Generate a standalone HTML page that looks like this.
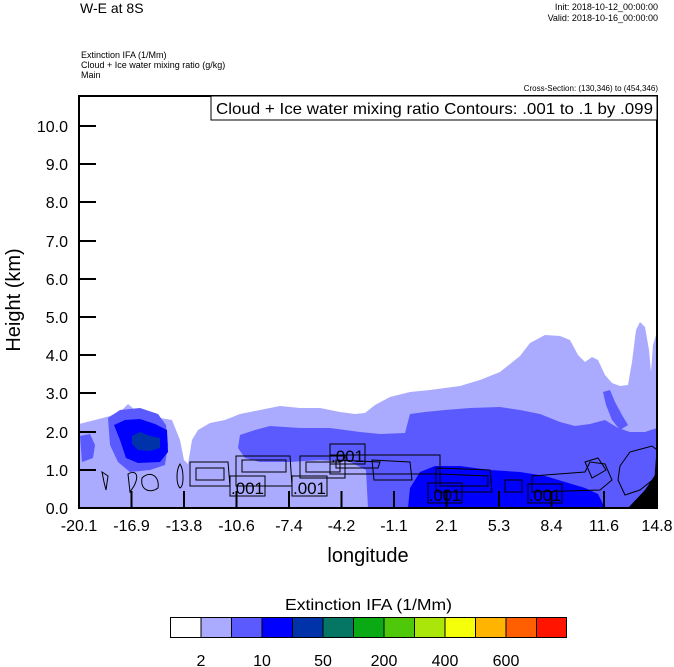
<!DOCTYPE html>
<html><head><meta charset="utf-8"><style>
body{margin:0;background:#fff}
svg{display:block;font-family:"Liberation Sans",sans-serif}
</style></head><body>
<svg width="674" height="667" viewBox="0 0 674 667" xmlns="http://www.w3.org/2000/svg">
<rect width="674" height="667" fill="#fff"/>
<text x="80" y="13" font-size="14">W-E at 8S</text>
<text x="658" y="10" font-size="9" text-anchor="end">Init: 2018-10-12_00:00:00</text>
<text x="658" y="21" font-size="9" text-anchor="end">Valid: 2018-10-16_00:00:00</text>
<text x="81" y="58" font-size="9">Extinction IFA   (1/Mm)</text>
<text x="81" y="68" font-size="9">Cloud + Ice water mixing ratio   (g/kg)</text>
<text x="81" y="78" font-size="9">Main</text>
<text x="658" y="91" font-size="8" text-anchor="end">Cross-Section: (130,346) to (454,346)</text>

<path fill="#aaaaff" d="M79,424 L95,420 L110,416 L122,410 L128,404 L135,410 L142,412 L150,414 L160,418 L172,420 L180,440 L184,460 L188,464 L192,440 L198,430 L210,423 L225,420 L240,414 L260,410 L280,406 L300,408 L320,408 L340,412 L355,414 L365,413 L375,405 L390,397 L410,392 L430,390 L460,386 L480,380 L500,372 L520,356 L530,343 L545,335 L560,336 L570,340 L578,355 L585,362 L592,357 L598,360 L605,375 L612,383 L620,386 L628,385 L632,362 L636,330 L640,322 L645,327 L649,350 L651,372 L653,345 L657,332 L657,508 L79,508 Z"/>
<path fill="#5a5aff" d="M240,435 L255,430 L270,426 L300,428 L330,428 L360,432 L380,434 L405,433 L410,414 L425,412 L445,410 L470,408 L500,407 L520,410 L540,414 L560,422 L575,426 L590,424 L605,420 L618,428 L630,432 L645,432 L657,428 L657,508 L368,508 L366,470 L350,462 L320,460 L290,462 L260,462 L245,458 L238,448 Z"/>
<path fill="#5a5aff" d="M603,392 L610,390 L615,402 L622,415 L628,425 L620,430 L612,420 L606,405 Z"/>
<path fill="#5a5aff" d="M80,436 L90,434 L95,445 L93,458 L82,462 Z"/>
<path fill="#5a5aff" d="M108,418 L120,410 L140,408 L158,414 L166,425 L168,445 L165,465 L150,470 L130,472 L118,462 L110,445 Z"/>
<path fill="#0000ff" d="M114,425 L125,420 L140,419 L155,424 L167,430 L168,452 L160,462 L138,463 L126,458 L120,440 Z"/>
<path fill="#0033aa" d="M132,436 L140,432 L150,436 L160,438 L160,448 L150,451 L138,450 L132,444 Z"/>
<path fill="#0000ff" d="M408,508 L410,488 L420,472 L435,466 L460,466 L490,470 L520,472 L545,476 L565,482 L585,488 L598,494 L605,508 Z"/>
<path fill="#000" d="M628,508 L645,490 L657,472 L657,508 Z"/>

<g fill="none" stroke="#000" stroke-width="1">
<path d="M102,472 L108,476 L106,490 L104,482 Z"/>
<path d="M128,474 C135,470 140,474 134,486 L130,492 Z"/>
<path d="M142,478 C150,470 160,476 158,488 C150,494 140,490 142,478 Z"/>
<path d="M180,464 C184,470 184,486 180,488 C176,484 176,470 180,464 Z"/>
<path d="M190,462 L228,462 L230,486 L190,486 Z"/>
<path d="M196,468 L224,468 L224,480 L196,480 Z"/>
<path d="M236,456 L290,456 L292,486 L236,486 Z"/>
<path d="M242,460 L286,460 L286,472 L242,472 Z"/>
<path d="M300,456 L345,456 L345,478 L300,478 Z"/>
<path d="M306,462 L340,462 L340,472 L306,472 Z"/>
<path d="M330,455 L440,455 L440,474 L330,474 Z"/>
<path d="M336,460 L380,462 L378,468 L336,468 Z"/>
<path d="M372,460 L410,462 L412,480 L374,480 Z"/>
<path d="M436,468 L490,470 L492,492 L436,492 Z"/>
<path d="M440,474 L488,476 L488,486 L440,486 Z"/>
<path d="M505,480 L522,480 L522,492 L505,492 Z"/>
<path d="M532,476 L585,472 L590,462 L605,464 L612,480 L600,490 L532,492 Z"/>
<path d="M620,466 L630,452 L645,448 L652,446 L657,450 L655,478 L640,490 L625,495 L618,480 Z"/>
<path d="M585,462 L598,458 L606,470 L592,478 Z"/>
</g>
<g font-size="17" fill="#000">
<rect x="230" y="476" width="35" height="20" fill="none" stroke="#000"/><text x="231" y="494" textLength="33">.001</text>
<rect x="292" y="476" width="35" height="20" fill="none" stroke="#000"/><text x="293" y="494" textLength="33">.001</text>
<rect x="330" y="444" width="35" height="20" fill="none" stroke="#000"/><text x="331" y="462" textLength="33">.001</text>
<rect x="428" y="483" width="34" height="20" fill="none" stroke="#000"/><text x="429" y="501" textLength="32">.001</text>
<rect x="528" y="484" width="34" height="19" fill="none" stroke="#000"/><text x="529" y="501" textLength="32">.001</text>
</g>

<rect x="79" y="96" width="578" height="412" fill="none" stroke="#000" stroke-width="2"/>
<rect x="211" y="96" width="446" height="24" fill="#fff" stroke="#000" stroke-width="1"/>
<text x="216" y="114" font-size="16" textLength="437" lengthAdjust="spacingAndGlyphs">Cloud + Ice water mixing ratio Contours: .001 to .1 by .099</text>

<g stroke="#000" stroke-width="2">
<line x1="79" y1="470" x2="96" y2="470"/><line x1="79" y1="432" x2="96" y2="432"/>
<line x1="79" y1="393" x2="96" y2="393"/><line x1="79" y1="355" x2="96" y2="355"/>
<line x1="79" y1="317" x2="96" y2="317"/><line x1="79" y1="279" x2="96" y2="279"/>
<line x1="79" y1="241" x2="96" y2="241"/><line x1="79" y1="202" x2="96" y2="202"/>
<line x1="79" y1="164" x2="96" y2="164"/><line x1="79" y1="126" x2="96" y2="126"/>
<line x1="131.5" y1="508" x2="131.5" y2="491"/><line x1="184" y1="508" x2="184" y2="491"/>
<line x1="236.5" y1="508" x2="236.5" y2="491"/><line x1="289" y1="508" x2="289" y2="491"/>
<line x1="341.5" y1="508" x2="341.5" y2="491"/><line x1="394" y1="508" x2="394" y2="491"/>
<line x1="446.5" y1="508" x2="446.5" y2="491"/><line x1="499" y1="508" x2="499" y2="491"/>
<line x1="551.5" y1="508" x2="551.5" y2="491"/><line x1="604" y1="508" x2="604" y2="491"/>
</g>
<g font-size="16" text-anchor="end">
<text x="68" y="514">0.0</text><text x="68" y="476">1.0</text><text x="68" y="438">2.0</text>
<text x="68" y="399">3.0</text><text x="68" y="361">4.0</text><text x="68" y="323">5.0</text>
<text x="68" y="285">6.0</text><text x="68" y="247">7.0</text><text x="68" y="208">8.0</text>
<text x="68" y="170">9.0</text><text x="68" y="132">10.0</text>
</g>
<text transform="translate(20,300) rotate(-90)" font-size="20" text-anchor="middle">Height (km)</text>
<g font-size="16" text-anchor="middle">
<text x="79" y="531">-20.1</text><text x="131.5" y="531">-16.9</text><text x="184" y="531">-13.8</text>
<text x="236.5" y="531">-10.6</text><text x="289" y="531">-7.4</text><text x="341.5" y="531">-4.2</text>
<text x="394" y="531">-1.1</text><text x="446.5" y="531">2.1</text><text x="499" y="531">5.3</text>
<text x="551.5" y="531">8.4</text><text x="604" y="531">11.6</text><text x="657" y="531">14.8</text>
</g>
<text x="368" y="562" font-size="20" text-anchor="middle">longitude</text>

<text x="285" y="610" font-size="16" textLength="167" lengthAdjust="spacingAndGlyphs">Extinction IFA  (1/Mm)</text>
<g stroke="#000" stroke-width="1">
<rect x="170.5" y="617.5" width="30.5" height="20" fill="#ffffff"/>
<rect x="201" y="617.5" width="30.5" height="20" fill="#aaaaff"/>
<rect x="231.5" y="617.5" width="30.5" height="20" fill="#5a5aff"/>
<rect x="262" y="617.5" width="30.5" height="20" fill="#0000ff"/>
<rect x="292.5" y="617.5" width="30.5" height="20" fill="#0033aa"/>
<rect x="323" y="617.5" width="30.5" height="20" fill="#057564"/>
<rect x="353.5" y="617.5" width="30.5" height="20" fill="#0aaa14"/>
<rect x="384" y="617.5" width="30.5" height="20" fill="#50c80a"/>
<rect x="414.5" y="617.5" width="30.5" height="20" fill="#aae60a"/>
<rect x="445" y="617.5" width="30.5" height="20" fill="#f5ff0a"/>
<rect x="475.5" y="617.5" width="30.5" height="20" fill="#ffb400"/>
<rect x="506" y="617.5" width="30.5" height="20" fill="#ff5f00"/>
<rect x="536.5" y="617.5" width="30" height="20" fill="#ff1400"/>
</g>
<g font-size="16" text-anchor="middle">
<text x="201" y="666">2</text><text x="262" y="666">10</text><text x="323" y="666">50</text>
<text x="384" y="666">200</text><text x="445" y="666">400</text><text x="506" y="666">600</text>
</g>
</svg>
</body></html>
